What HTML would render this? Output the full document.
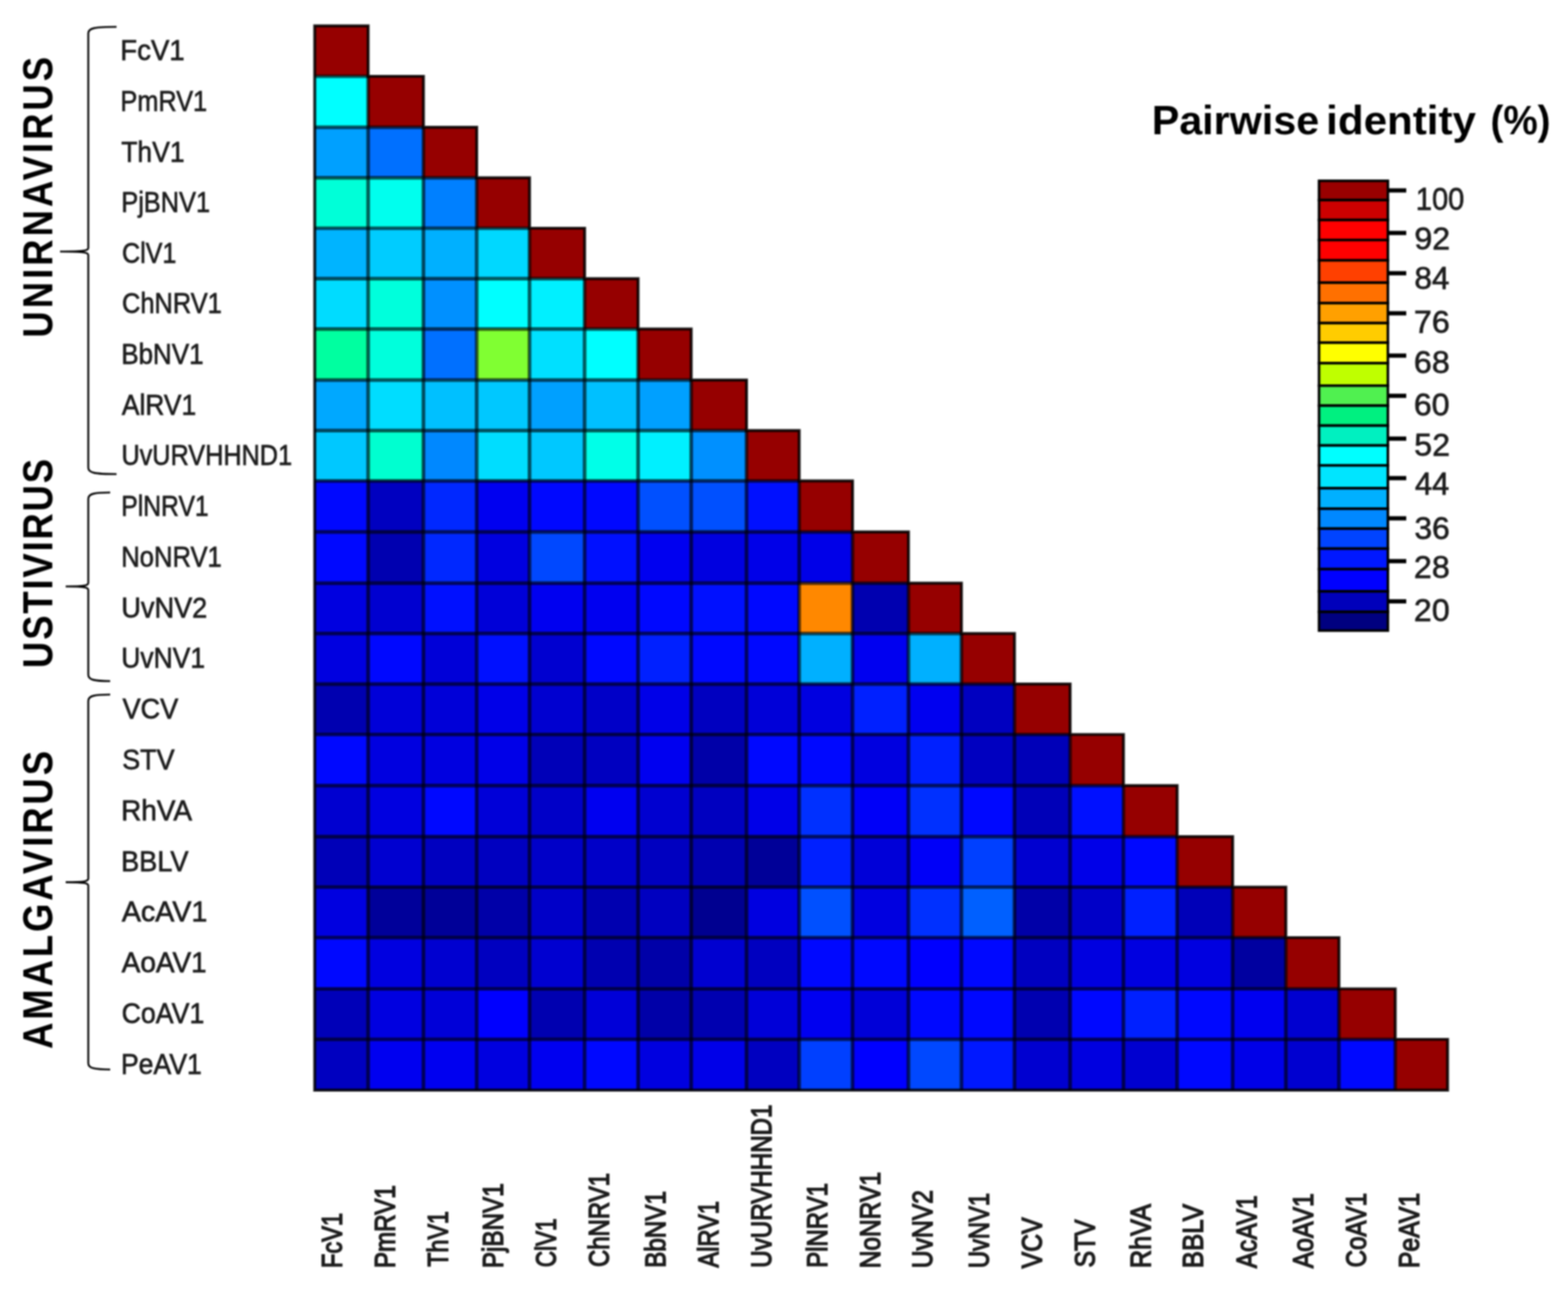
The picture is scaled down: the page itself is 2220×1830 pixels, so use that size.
<!DOCTYPE html><html><head><meta charset="utf-8"><title>Pairwise identity heatmap</title>
<style>html,body{margin:0;padding:0;background:#fff;width:2220px;height:1830px;overflow:hidden}svg{display:block;filter:blur(1px)}.lb{font-family:"Liberation Sans",Arial,sans-serif;font-size:41px;fill:#1c1c1c;stroke:#1c1c1c;stroke-width:0.9px}.lc{font-family:"Liberation Sans",Arial,sans-serif;font-size:40px;fill:#1c1c1c;stroke:#1c1c1c;stroke-width:1.8px}.gp{font-family:"Liberation Sans",Arial,sans-serif;font-weight:bold;font-size:60px;fill:#000}.tt{font-family:"Liberation Sans",Arial,sans-serif;font-weight:bold;font-size:58px;fill:#000}.tk{font-family:"Liberation Sans",Arial,sans-serif;font-size:45px;fill:#1c1c1c;stroke:#1c1c1c;stroke-width:0.9px}</style></head><body>
<svg width="2220" height="1830" viewBox="0 0 2220 1830">
<rect width="2220" height="1830" fill="#fff"/>
<g>
<rect x="445.10" y="36.10" width="76.60" height="72.40" fill="#960000"/>
<rect x="445.10" y="107.50" width="76.60" height="73.20" fill="#00FFFF"/>
<rect x="520.70" y="107.50" width="79.30" height="73.20" fill="#960000"/>
<rect x="445.10" y="179.70" width="76.60" height="72.40" fill="#00A0FF"/>
<rect x="520.70" y="179.70" width="79.30" height="72.40" fill="#0070FF"/>
<rect x="599.00" y="179.70" width="76.40" height="72.40" fill="#960000"/>
<rect x="445.10" y="251.10" width="76.60" height="72.40" fill="#00FFD8"/>
<rect x="520.70" y="251.10" width="79.30" height="72.40" fill="#00FFEE"/>
<rect x="599.00" y="251.10" width="76.40" height="72.40" fill="#0080FF"/>
<rect x="674.40" y="251.10" width="75.80" height="72.40" fill="#960000"/>
<rect x="445.10" y="322.50" width="76.60" height="72.40" fill="#00B4FF"/>
<rect x="520.70" y="322.50" width="79.30" height="72.40" fill="#00CCFF"/>
<rect x="599.00" y="322.50" width="76.40" height="72.40" fill="#00B0FF"/>
<rect x="674.40" y="322.50" width="75.80" height="72.40" fill="#00D8FF"/>
<rect x="749.20" y="322.50" width="79.00" height="72.40" fill="#960000"/>
<rect x="445.10" y="393.90" width="76.60" height="72.30" fill="#00DCFF"/>
<rect x="520.70" y="393.90" width="79.30" height="72.30" fill="#00FFDC"/>
<rect x="599.00" y="393.90" width="76.40" height="72.30" fill="#0090FF"/>
<rect x="674.40" y="393.90" width="75.80" height="72.30" fill="#00FFFF"/>
<rect x="749.20" y="393.90" width="79.00" height="72.30" fill="#00F0FF"/>
<rect x="827.20" y="393.90" width="76.70" height="72.30" fill="#960000"/>
<rect x="445.10" y="465.20" width="76.60" height="73.10" fill="#00FFA0"/>
<rect x="520.70" y="465.20" width="79.30" height="73.10" fill="#00FFDC"/>
<rect x="599.00" y="465.20" width="76.40" height="73.10" fill="#0070FF"/>
<rect x="674.40" y="465.20" width="75.80" height="73.10" fill="#80FF32"/>
<rect x="749.20" y="465.20" width="79.00" height="73.10" fill="#00E0FF"/>
<rect x="827.20" y="465.20" width="76.70" height="73.10" fill="#00FFFF"/>
<rect x="902.90" y="465.20" width="76.20" height="73.10" fill="#960000"/>
<rect x="445.10" y="537.30" width="76.60" height="72.50" fill="#00A8FF"/>
<rect x="520.70" y="537.30" width="79.30" height="72.50" fill="#00DDFF"/>
<rect x="599.00" y="537.30" width="76.40" height="72.50" fill="#00C0FF"/>
<rect x="674.40" y="537.30" width="75.80" height="72.50" fill="#00C8FF"/>
<rect x="749.20" y="537.30" width="79.00" height="72.50" fill="#00A0FF"/>
<rect x="827.20" y="537.30" width="76.70" height="72.50" fill="#00C0FF"/>
<rect x="902.90" y="537.30" width="76.20" height="72.50" fill="#00A0FF"/>
<rect x="978.10" y="537.30" width="79.30" height="72.50" fill="#960000"/>
<rect x="445.10" y="608.80" width="76.60" height="72.40" fill="#00C8FF"/>
<rect x="520.70" y="608.80" width="79.30" height="72.40" fill="#00FFD0"/>
<rect x="599.00" y="608.80" width="76.40" height="72.40" fill="#0088FF"/>
<rect x="674.40" y="608.80" width="75.80" height="72.40" fill="#00DDFF"/>
<rect x="749.20" y="608.80" width="79.00" height="72.40" fill="#00C8FF"/>
<rect x="827.20" y="608.80" width="76.70" height="72.40" fill="#00FFE8"/>
<rect x="902.90" y="608.80" width="76.20" height="72.40" fill="#00F0FF"/>
<rect x="978.10" y="608.80" width="79.30" height="72.40" fill="#0090FF"/>
<rect x="1056.40" y="608.80" width="75.60" height="72.40" fill="#960000"/>
<rect x="445.10" y="680.20" width="76.60" height="73.10" fill="#0008FF"/>
<rect x="520.70" y="680.20" width="79.30" height="73.10" fill="#0000C0"/>
<rect x="599.00" y="680.20" width="76.40" height="73.10" fill="#0028FF"/>
<rect x="674.40" y="680.20" width="75.80" height="73.10" fill="#0000F0"/>
<rect x="749.20" y="680.20" width="79.00" height="73.10" fill="#0008FF"/>
<rect x="827.20" y="680.20" width="76.70" height="73.10" fill="#0008FF"/>
<rect x="902.90" y="680.20" width="76.20" height="73.10" fill="#0050FF"/>
<rect x="978.10" y="680.20" width="79.30" height="73.10" fill="#0050FF"/>
<rect x="1056.40" y="680.20" width="75.60" height="73.10" fill="#0010FF"/>
<rect x="1131.00" y="680.20" width="76.50" height="73.10" fill="#960000"/>
<rect x="445.10" y="752.30" width="76.60" height="73.50" fill="#0008FF"/>
<rect x="520.70" y="752.30" width="79.30" height="73.50" fill="#0000B0"/>
<rect x="599.00" y="752.30" width="76.40" height="73.50" fill="#0028FF"/>
<rect x="674.40" y="752.30" width="75.80" height="73.50" fill="#0000E0"/>
<rect x="749.20" y="752.30" width="79.00" height="73.50" fill="#0048FF"/>
<rect x="827.20" y="752.30" width="76.70" height="73.50" fill="#0010FF"/>
<rect x="902.90" y="752.30" width="76.20" height="73.50" fill="#0000F0"/>
<rect x="978.10" y="752.30" width="79.30" height="73.50" fill="#0000E0"/>
<rect x="1056.40" y="752.30" width="75.60" height="73.50" fill="#0000E8"/>
<rect x="1131.00" y="752.30" width="76.50" height="73.50" fill="#0000E8"/>
<rect x="1206.50" y="752.30" width="80.20" height="73.50" fill="#960000"/>
<rect x="445.10" y="824.80" width="76.60" height="72.40" fill="#0000E0"/>
<rect x="520.70" y="824.80" width="79.30" height="72.40" fill="#0000D0"/>
<rect x="599.00" y="824.80" width="76.40" height="72.40" fill="#0010FF"/>
<rect x="674.40" y="824.80" width="75.80" height="72.40" fill="#0000D8"/>
<rect x="749.20" y="824.80" width="79.00" height="72.40" fill="#0000F0"/>
<rect x="827.20" y="824.80" width="76.70" height="72.40" fill="#0000F0"/>
<rect x="902.90" y="824.80" width="76.20" height="72.40" fill="#0008FF"/>
<rect x="978.10" y="824.80" width="79.30" height="72.40" fill="#0010FF"/>
<rect x="1056.40" y="824.80" width="75.60" height="72.40" fill="#0008FF"/>
<rect x="1131.00" y="824.80" width="76.50" height="72.40" fill="#FF8800"/>
<rect x="1206.50" y="824.80" width="80.20" height="72.40" fill="#0000B0"/>
<rect x="1285.70" y="824.80" width="76.00" height="72.40" fill="#960000"/>
<rect x="445.10" y="896.20" width="76.60" height="72.40" fill="#0000E0"/>
<rect x="520.70" y="896.20" width="79.30" height="72.40" fill="#0008FF"/>
<rect x="599.00" y="896.20" width="76.40" height="72.40" fill="#0000D8"/>
<rect x="674.40" y="896.20" width="75.80" height="72.40" fill="#0010FF"/>
<rect x="749.20" y="896.20" width="79.00" height="72.40" fill="#0000D0"/>
<rect x="827.20" y="896.20" width="76.70" height="72.40" fill="#0008FF"/>
<rect x="902.90" y="896.20" width="76.20" height="72.40" fill="#0020FF"/>
<rect x="978.10" y="896.20" width="79.30" height="72.40" fill="#0008FF"/>
<rect x="1056.40" y="896.20" width="75.60" height="72.40" fill="#0008FF"/>
<rect x="1131.00" y="896.20" width="76.50" height="72.40" fill="#00B0FF"/>
<rect x="1206.50" y="896.20" width="80.20" height="72.40" fill="#0000F0"/>
<rect x="1285.70" y="896.20" width="76.00" height="72.40" fill="#00B0FF"/>
<rect x="1360.70" y="896.20" width="76.10" height="72.40" fill="#960000"/>
<rect x="445.10" y="967.60" width="76.60" height="72.40" fill="#0000B0"/>
<rect x="520.70" y="967.60" width="79.30" height="72.40" fill="#0000D8"/>
<rect x="599.00" y="967.60" width="76.40" height="72.40" fill="#0000D8"/>
<rect x="674.40" y="967.60" width="75.80" height="72.40" fill="#0000E8"/>
<rect x="749.20" y="967.60" width="79.00" height="72.40" fill="#0000D0"/>
<rect x="827.20" y="967.60" width="76.70" height="72.40" fill="#0000C8"/>
<rect x="902.90" y="967.60" width="76.20" height="72.40" fill="#0000E8"/>
<rect x="978.10" y="967.60" width="79.30" height="72.40" fill="#0000C0"/>
<rect x="1056.40" y="967.60" width="75.60" height="72.40" fill="#0000D8"/>
<rect x="1131.00" y="967.60" width="76.50" height="72.40" fill="#0000E0"/>
<rect x="1206.50" y="967.60" width="80.20" height="72.40" fill="#0020FF"/>
<rect x="1285.70" y="967.60" width="76.00" height="72.40" fill="#0000F0"/>
<rect x="1360.70" y="967.60" width="76.10" height="72.40" fill="#0000C0"/>
<rect x="1435.80" y="967.60" width="79.80" height="72.40" fill="#960000"/>
<rect x="445.10" y="1039.00" width="76.60" height="73.30" fill="#0008FF"/>
<rect x="520.70" y="1039.00" width="79.30" height="73.30" fill="#0000E0"/>
<rect x="599.00" y="1039.00" width="76.40" height="73.30" fill="#0000E0"/>
<rect x="674.40" y="1039.00" width="75.80" height="73.30" fill="#0000E8"/>
<rect x="749.20" y="1039.00" width="79.00" height="73.30" fill="#0000B8"/>
<rect x="827.20" y="1039.00" width="76.70" height="73.30" fill="#0000C0"/>
<rect x="902.90" y="1039.00" width="76.20" height="73.30" fill="#0000F0"/>
<rect x="978.10" y="1039.00" width="79.30" height="73.30" fill="#0000A8"/>
<rect x="1056.40" y="1039.00" width="75.60" height="73.30" fill="#0008FF"/>
<rect x="1131.00" y="1039.00" width="76.50" height="73.30" fill="#0008FF"/>
<rect x="1206.50" y="1039.00" width="80.20" height="73.30" fill="#0000E0"/>
<rect x="1285.70" y="1039.00" width="76.00" height="73.30" fill="#0020FF"/>
<rect x="1360.70" y="1039.00" width="76.10" height="73.30" fill="#0000C0"/>
<rect x="1435.80" y="1039.00" width="79.80" height="73.30" fill="#0000B8"/>
<rect x="1514.60" y="1039.00" width="76.50" height="73.30" fill="#960000"/>
<rect x="445.10" y="1111.30" width="76.60" height="73.30" fill="#0000D0"/>
<rect x="520.70" y="1111.30" width="79.30" height="73.30" fill="#0000E0"/>
<rect x="599.00" y="1111.30" width="76.40" height="73.30" fill="#0008FF"/>
<rect x="674.40" y="1111.30" width="75.80" height="73.30" fill="#0000D8"/>
<rect x="749.20" y="1111.30" width="79.00" height="73.30" fill="#0000C8"/>
<rect x="827.20" y="1111.30" width="76.70" height="73.30" fill="#0000F0"/>
<rect x="902.90" y="1111.30" width="76.20" height="73.30" fill="#0000D0"/>
<rect x="978.10" y="1111.30" width="79.30" height="73.30" fill="#0000C0"/>
<rect x="1056.40" y="1111.30" width="75.60" height="73.30" fill="#0000E8"/>
<rect x="1131.00" y="1111.30" width="76.50" height="73.30" fill="#0030FF"/>
<rect x="1206.50" y="1111.30" width="80.20" height="73.30" fill="#0000F8"/>
<rect x="1285.70" y="1111.30" width="76.00" height="73.30" fill="#0030FF"/>
<rect x="1360.70" y="1111.30" width="76.10" height="73.30" fill="#0008FF"/>
<rect x="1435.80" y="1111.30" width="79.80" height="73.30" fill="#0000B8"/>
<rect x="1514.60" y="1111.30" width="76.50" height="73.30" fill="#0010FF"/>
<rect x="1590.10" y="1111.30" width="77.00" height="73.30" fill="#960000"/>
<rect x="445.10" y="1183.60" width="76.60" height="72.40" fill="#0000B8"/>
<rect x="520.70" y="1183.60" width="79.30" height="72.40" fill="#0000D0"/>
<rect x="599.00" y="1183.60" width="76.40" height="72.40" fill="#0000C0"/>
<rect x="674.40" y="1183.60" width="75.80" height="72.40" fill="#0000C0"/>
<rect x="749.20" y="1183.60" width="79.00" height="72.40" fill="#0000C8"/>
<rect x="827.20" y="1183.60" width="76.70" height="72.40" fill="#0000C8"/>
<rect x="902.90" y="1183.60" width="76.20" height="72.40" fill="#0000C0"/>
<rect x="978.10" y="1183.60" width="79.30" height="72.40" fill="#0000B0"/>
<rect x="1056.40" y="1183.60" width="75.60" height="72.40" fill="#000098"/>
<rect x="1131.00" y="1183.60" width="76.50" height="72.40" fill="#0020FF"/>
<rect x="1206.50" y="1183.60" width="80.20" height="72.40" fill="#0000D8"/>
<rect x="1285.70" y="1183.60" width="76.00" height="72.40" fill="#0000F8"/>
<rect x="1360.70" y="1183.60" width="76.10" height="72.40" fill="#0040FF"/>
<rect x="1435.80" y="1183.60" width="79.80" height="72.40" fill="#0000D0"/>
<rect x="1514.60" y="1183.60" width="76.50" height="72.40" fill="#0000E8"/>
<rect x="1590.10" y="1183.60" width="77.00" height="72.40" fill="#0008FF"/>
<rect x="1666.10" y="1183.60" width="79.60" height="72.40" fill="#960000"/>
<rect x="445.10" y="1255.00" width="76.60" height="72.50" fill="#0000E0"/>
<rect x="520.70" y="1255.00" width="79.30" height="72.50" fill="#00009A"/>
<rect x="599.00" y="1255.00" width="76.40" height="72.50" fill="#000098"/>
<rect x="674.40" y="1255.00" width="75.80" height="72.50" fill="#0000A8"/>
<rect x="749.20" y="1255.00" width="79.00" height="72.50" fill="#0000C8"/>
<rect x="827.20" y="1255.00" width="76.70" height="72.50" fill="#0000B0"/>
<rect x="902.90" y="1255.00" width="76.20" height="72.50" fill="#0000C0"/>
<rect x="978.10" y="1255.00" width="79.30" height="72.50" fill="#000090"/>
<rect x="1056.40" y="1255.00" width="75.60" height="72.50" fill="#0000E0"/>
<rect x="1131.00" y="1255.00" width="76.50" height="72.50" fill="#0050FF"/>
<rect x="1206.50" y="1255.00" width="80.20" height="72.50" fill="#0000E0"/>
<rect x="1285.70" y="1255.00" width="76.00" height="72.50" fill="#0030FF"/>
<rect x="1360.70" y="1255.00" width="76.10" height="72.50" fill="#0060FF"/>
<rect x="1435.80" y="1255.00" width="79.80" height="72.50" fill="#0000A8"/>
<rect x="1514.60" y="1255.00" width="76.50" height="72.50" fill="#0000C8"/>
<rect x="1590.10" y="1255.00" width="77.00" height="72.50" fill="#0020FF"/>
<rect x="1666.10" y="1255.00" width="79.60" height="72.50" fill="#0000B8"/>
<rect x="1744.70" y="1255.00" width="76.30" height="72.50" fill="#960000"/>
<rect x="445.10" y="1326.50" width="76.60" height="73.50" fill="#0008FF"/>
<rect x="520.70" y="1326.50" width="79.30" height="73.50" fill="#0000E0"/>
<rect x="599.00" y="1326.50" width="76.40" height="73.50" fill="#0000D0"/>
<rect x="674.40" y="1326.50" width="75.80" height="73.50" fill="#0000C0"/>
<rect x="749.20" y="1326.50" width="79.00" height="73.50" fill="#0000D0"/>
<rect x="827.20" y="1326.50" width="76.70" height="73.50" fill="#0000B0"/>
<rect x="902.90" y="1326.50" width="76.20" height="73.50" fill="#0000A8"/>
<rect x="978.10" y="1326.50" width="79.30" height="73.50" fill="#0000D0"/>
<rect x="1056.40" y="1326.50" width="75.60" height="73.50" fill="#0000C0"/>
<rect x="1131.00" y="1326.50" width="76.50" height="73.50" fill="#0008FF"/>
<rect x="1206.50" y="1326.50" width="80.20" height="73.50" fill="#0008FF"/>
<rect x="1285.70" y="1326.50" width="76.00" height="73.50" fill="#0000FF"/>
<rect x="1360.70" y="1326.50" width="76.10" height="73.50" fill="#0008FF"/>
<rect x="1435.80" y="1326.50" width="79.80" height="73.50" fill="#0000C0"/>
<rect x="1514.60" y="1326.50" width="76.50" height="73.50" fill="#0000E0"/>
<rect x="1590.10" y="1326.50" width="77.00" height="73.50" fill="#0000E0"/>
<rect x="1666.10" y="1326.50" width="79.60" height="73.50" fill="#0000E0"/>
<rect x="1744.70" y="1326.50" width="76.30" height="73.50" fill="#0000A0"/>
<rect x="1820.00" y="1326.50" width="76.20" height="73.50" fill="#960000"/>
<rect x="445.10" y="1399.00" width="76.60" height="72.50" fill="#0000B8"/>
<rect x="520.70" y="1399.00" width="79.30" height="72.50" fill="#0000E0"/>
<rect x="599.00" y="1399.00" width="76.40" height="72.50" fill="#0000D8"/>
<rect x="674.40" y="1399.00" width="75.80" height="72.50" fill="#0000FF"/>
<rect x="749.20" y="1399.00" width="79.00" height="72.50" fill="#0000B0"/>
<rect x="827.20" y="1399.00" width="76.70" height="72.50" fill="#0000D8"/>
<rect x="902.90" y="1399.00" width="76.20" height="72.50" fill="#0000A8"/>
<rect x="978.10" y="1399.00" width="79.30" height="72.50" fill="#0000B0"/>
<rect x="1056.40" y="1399.00" width="75.60" height="72.50" fill="#0000D8"/>
<rect x="1131.00" y="1399.00" width="76.50" height="72.50" fill="#0000F0"/>
<rect x="1206.50" y="1399.00" width="80.20" height="72.50" fill="#0000D8"/>
<rect x="1285.70" y="1399.00" width="76.00" height="72.50" fill="#0008FF"/>
<rect x="1360.70" y="1399.00" width="76.10" height="72.50" fill="#0008FF"/>
<rect x="1435.80" y="1399.00" width="79.80" height="72.50" fill="#0000B0"/>
<rect x="1514.60" y="1399.00" width="76.50" height="72.50" fill="#0008FF"/>
<rect x="1590.10" y="1399.00" width="77.00" height="72.50" fill="#0020FF"/>
<rect x="1666.10" y="1399.00" width="79.60" height="72.50" fill="#0008FF"/>
<rect x="1744.70" y="1399.00" width="76.30" height="72.50" fill="#0000F0"/>
<rect x="1820.00" y="1399.00" width="76.20" height="72.50" fill="#0000D0"/>
<rect x="1895.20" y="1399.00" width="80.70" height="72.50" fill="#960000"/>
<rect x="445.10" y="1470.50" width="76.60" height="72.90" fill="#0000C0"/>
<rect x="520.70" y="1470.50" width="79.30" height="72.90" fill="#0000F0"/>
<rect x="599.00" y="1470.50" width="76.40" height="72.90" fill="#0000F0"/>
<rect x="674.40" y="1470.50" width="75.80" height="72.90" fill="#0000E0"/>
<rect x="749.20" y="1470.50" width="79.00" height="72.90" fill="#0000F0"/>
<rect x="827.20" y="1470.50" width="76.70" height="72.90" fill="#0008FF"/>
<rect x="902.90" y="1470.50" width="76.20" height="72.90" fill="#0000E0"/>
<rect x="978.10" y="1470.50" width="79.30" height="72.90" fill="#0000E8"/>
<rect x="1056.40" y="1470.50" width="75.60" height="72.90" fill="#0000C0"/>
<rect x="1131.00" y="1470.50" width="76.50" height="72.90" fill="#0040FF"/>
<rect x="1206.50" y="1470.50" width="80.20" height="72.90" fill="#0000FF"/>
<rect x="1285.70" y="1470.50" width="76.00" height="72.90" fill="#0048FF"/>
<rect x="1360.70" y="1470.50" width="76.10" height="72.90" fill="#0018FF"/>
<rect x="1435.80" y="1470.50" width="79.80" height="72.90" fill="#0000D0"/>
<rect x="1514.60" y="1470.50" width="76.50" height="72.90" fill="#0000E0"/>
<rect x="1590.10" y="1470.50" width="77.00" height="72.90" fill="#0000D0"/>
<rect x="1666.10" y="1470.50" width="79.60" height="72.90" fill="#0008FF"/>
<rect x="1744.70" y="1470.50" width="76.30" height="72.90" fill="#0000E8"/>
<rect x="1820.00" y="1470.50" width="76.20" height="72.90" fill="#0000D0"/>
<rect x="1895.20" y="1470.50" width="80.70" height="72.90" fill="#0008FF"/>
<rect x="1974.90" y="1470.50" width="75.10" height="72.90" fill="#960000"/>
</g>
<path d="M445.60 108.00H521.20M445.60 180.20H599.50M445.60 251.60H674.90M445.60 323.00H749.70M445.60 394.40H827.70M445.60 465.70H903.40M445.60 537.80H978.60M445.60 609.30H1056.90M445.60 680.70H1131.50M445.60 752.80H1207.00M445.60 825.30H1286.20M445.60 896.70H1361.20M445.60 968.10H1436.30M445.60 1039.50H1515.10M445.60 1111.80H1590.60M445.60 1184.10H1666.60M445.60 1255.50H1745.20M445.60 1327.00H1820.50M445.60 1399.50H1895.70M445.60 1471.00H1975.40" fill="none" stroke="#000" stroke-opacity="0.62" stroke-width="5.2"/>
<path d="M521.20 108.00V1542.90M599.50 180.20V1542.90M674.90 251.60V1542.90M749.70 323.00V1542.90M827.70 394.40V1542.90M903.40 465.70V1542.90M978.60 537.80V1542.90M1056.90 609.30V1542.90M1131.50 680.70V1542.90M1207.00 752.80V1542.90M1286.20 825.30V1542.90M1361.20 896.70V1542.90M1436.30 968.10V1542.90M1515.10 1039.50V1542.90M1590.60 1111.80V1542.90M1666.60 1184.10V1542.90M1745.20 1255.50V1542.90M1820.50 1327.00V1542.90M1895.70 1399.50V1542.90M1975.40 1471.00V1542.90" fill="none" stroke="#000" stroke-opacity="0.62" stroke-width="5.2"/>
<path d="M445.60 36.60H521.20V108.00H599.50V180.20H674.90V251.60H749.70V323.00H827.70V394.40H903.40V465.70H978.60V537.80H1056.90V609.30H1131.50V680.70H1207.00V752.80H1286.20V825.30H1361.20V896.70H1436.30V968.10H1515.10V1039.50H1590.60V1111.80H1666.60V1184.10H1745.20V1255.50H1820.50V1327.00H1895.70V1399.50H1975.40V1471.00H2049.50V1542.90H445.60Z" fill="none" stroke="#000" stroke-opacity="0.85" stroke-width="4.2" stroke-linejoin="miter"/>
<text class="lb" x="170.35" y="85.3" textLength="91.00" lengthAdjust="spacingAndGlyphs">FcV1</text>
<text class="lb" x="170.61" y="157.1" textLength="122.68" lengthAdjust="spacingAndGlyphs">PmRV1</text>
<text class="lb" x="171.71" y="228.9" textLength="89.57" lengthAdjust="spacingAndGlyphs">ThV1</text>
<text class="lb" x="171.71" y="300.3" textLength="125.70" lengthAdjust="spacingAndGlyphs">PjBNV1</text>
<text class="lb" x="172.85" y="371.7" textLength="76.94" lengthAdjust="spacingAndGlyphs">ClV1</text>
<text class="lb" x="172.82" y="443.0" textLength="141.18" lengthAdjust="spacingAndGlyphs">ChNRV1</text>
<text class="lb" x="171.63" y="514.8" textLength="116.51" lengthAdjust="spacingAndGlyphs">BbNV1</text>
<text class="lb" x="172.48" y="586.5" textLength="105.30" lengthAdjust="spacingAndGlyphs">AlRV1</text>
<text class="lb" x="171.89" y="658.0" textLength="241.70" lengthAdjust="spacingAndGlyphs">UvURVHHND1</text>
<text class="lb" x="171.79" y="729.8" textLength="123.57" lengthAdjust="spacingAndGlyphs">PlNRV1</text>
<text class="lb" x="171.68" y="802.0" textLength="142.34" lengthAdjust="spacingAndGlyphs">NoNRV1</text>
<text class="lb" x="171.68" y="874.0" textLength="121.80" lengthAdjust="spacingAndGlyphs">UvNV2</text>
<text class="lb" x="171.76" y="945.4" textLength="118.51" lengthAdjust="spacingAndGlyphs">UvNV1</text>
<text class="lb" x="173.38" y="1016.8" textLength="78.94" lengthAdjust="spacingAndGlyphs">VCV</text>
<text class="lb" x="172.92" y="1088.7" textLength="74.20" lengthAdjust="spacingAndGlyphs">STV</text>
<text class="lb" x="171.40" y="1160.9" textLength="100.53" lengthAdjust="spacingAndGlyphs">RhVA</text>
<text class="lb" x="171.50" y="1232.8" textLength="95.32" lengthAdjust="spacingAndGlyphs">BBLV</text>
<text class="lb" x="172.47" y="1304.2" textLength="121.06" lengthAdjust="spacingAndGlyphs">AcAV1</text>
<text class="lb" x="172.27" y="1376.2" textLength="120.31" lengthAdjust="spacingAndGlyphs">AoAV1</text>
<text class="lb" x="172.33" y="1448.2" textLength="116.86" lengthAdjust="spacingAndGlyphs">CoAV1</text>
<text class="lb" x="171.16" y="1520.0" textLength="114.64" lengthAdjust="spacingAndGlyphs">PeAV1</text>
<text class="lc" transform="translate(483.9,1800) rotate(-90)" x="5.26" y="0" textLength="78.08" lengthAdjust="spacingAndGlyphs">FcV1</text>
<text class="lc" transform="translate(559.1,1800) rotate(-90)" x="5.19" y="0" textLength="117.49" lengthAdjust="spacingAndGlyphs">PmRV1</text>
<text class="lc" transform="translate(634.3,1800) rotate(-90)" x="7.26" y="0" textLength="78.65" lengthAdjust="spacingAndGlyphs">ThV1</text>
<text class="lc" transform="translate(712.1,1800) rotate(-90)" x="5.19" y="0" textLength="120.09" lengthAdjust="spacingAndGlyphs">PjBNV1</text>
<text class="lc" transform="translate(787.3,1800) rotate(-90)" x="6.38" y="0" textLength="69.18" lengthAdjust="spacingAndGlyphs">ClV1</text>
<text class="lc" transform="translate(862.2,1800) rotate(-90)" x="6.78" y="0" textLength="133.07" lengthAdjust="spacingAndGlyphs">ChNRV1</text>
<text class="lc" transform="translate(942.0,1800) rotate(-90)" x="5.69" y="0" textLength="108.58" lengthAdjust="spacingAndGlyphs">BbNV1</text>
<text class="lc" transform="translate(1017.0,1800) rotate(-90)" x="6.03" y="0" textLength="93.99" lengthAdjust="spacingAndGlyphs">AlRV1</text>
<text class="lc" transform="translate(1092.0,1800) rotate(-90)" x="5.86" y="0" textLength="230.90" lengthAdjust="spacingAndGlyphs">UvURVHHND1</text>
<text class="lc" transform="translate(1170.9,1800) rotate(-90)" x="5.72" y="0" textLength="119.94" lengthAdjust="spacingAndGlyphs">PlNRV1</text>
<text class="lc" transform="translate(1246.1,1800) rotate(-90)" x="4.95" y="0" textLength="136.24" lengthAdjust="spacingAndGlyphs">NoNRV1</text>
<text class="lc" transform="translate(1320.2,1800) rotate(-90)" x="5.11" y="0" textLength="110.44" lengthAdjust="spacingAndGlyphs">UvNV2</text>
<text class="lc" transform="translate(1399.9,1800) rotate(-90)" x="5.21" y="0" textLength="106.43" lengthAdjust="spacingAndGlyphs">UvNV1</text>
<text class="lc" transform="translate(1475.0,1800) rotate(-90)" x="4.85" y="0" textLength="72.11" lengthAdjust="spacingAndGlyphs">VCV</text>
<text class="lc" transform="translate(1550.0,1800) rotate(-90)" x="6.22" y="0" textLength="67.84" lengthAdjust="spacingAndGlyphs">STV</text>
<text class="lc" transform="translate(1628.5,1800) rotate(-90)" x="5.18" y="0" textLength="90.49" lengthAdjust="spacingAndGlyphs">RhVA</text>
<text class="lc" transform="translate(1703.2,1800) rotate(-90)" x="5.10" y="0" textLength="90.66" lengthAdjust="spacingAndGlyphs">BBLV</text>
<text class="lc" transform="translate(1779.0,1800) rotate(-90)" x="5.03" y="0" textLength="103.26" lengthAdjust="spacingAndGlyphs">AcAV1</text>
<text class="lc" transform="translate(1858.8,1800) rotate(-90)" x="5.03" y="0" textLength="106.28" lengthAdjust="spacingAndGlyphs">AoAV1</text>
<text class="lc" transform="translate(1933.6,1800) rotate(-90)" x="6.37" y="0" textLength="105.29" lengthAdjust="spacingAndGlyphs">CoAV1</text>
<text class="lc" transform="translate(2009.2,1800) rotate(-90)" x="5.23" y="0" textLength="106.49" lengthAdjust="spacingAndGlyphs">PeAV1</text>
<text class="gp" transform="translate(73.5,2000) rotate(-90) scale(0.860,1)" x="1770.00" style="letter-spacing:4.98px">UNIRNAVIRUS</text>
<text class="gp" transform="translate(73.5,2000) rotate(-90) scale(0.860,1)" x="1226.28" style="letter-spacing:3.01px">USTIVIRUS</text>
<text class="gp" transform="translate(73.5,2000) rotate(-90) scale(0.860,1)" x="599.32" style="letter-spacing:4.84px">AMALGAVIRUS</text>
<path d="M165.0 38.0 C133.0 38.0 125.0 40.0 125.0 47.0 L125.0 351.0 C125.0 354.5 121.0 356.0 85.0 356.0 C121.0 356.0 125.0 357.5 125.0 361.0 L125.0 662.0 C125.0 669.0 133.0 671.0 165.0 671.0" fill="none" stroke="#000" stroke-width="2.6"/>
<path d="M156.0 697.0 C133.0 697.0 125.0 699.0 125.0 706.0 L125.0 825.0 C125.0 828.5 121.0 830.0 93.0 830.0 C121.0 830.0 125.0 831.5 125.0 835.0 L125.0 955.0 C125.0 962.0 133.0 964.0 156.0 964.0" fill="none" stroke="#000" stroke-width="2.6"/>
<path d="M156.0 983.0 C133.0 983.0 125.0 985.0 125.0 992.0 L125.0 1243.6 C125.0 1247.1 121.0 1248.6 93.0 1248.6 C121.0 1248.6 125.0 1250.1 125.0 1253.6 L125.0 1504.7 C125.0 1511.7 133.0 1513.7 156.0 1513.7" fill="none" stroke="#000" stroke-width="2.6"/>
<text class="tt" y="190.2">
<tspan x="1630.69" textLength="237.00" lengthAdjust="spacingAndGlyphs">Pairwise</tspan>
<tspan x="1877.64" textLength="212.09" lengthAdjust="spacingAndGlyphs">identity</tspan>
<tspan x="2110.18" textLength="85.05" lengthAdjust="spacingAndGlyphs">(%)</tspan>
</text>
<g stroke="#000" stroke-width="3.6">
<rect x="1867.5" y="255.90" width="97.5" height="27.30" fill="#990000"/>
<rect x="1867.5" y="283.20" width="97.5" height="28.20" fill="#CC0000"/>
<rect x="1867.5" y="311.40" width="97.5" height="28.30" fill="#FF0000"/>
<rect x="1867.5" y="339.70" width="97.5" height="28.80" fill="#FF0000"/>
<rect x="1867.5" y="368.50" width="97.5" height="31.60" fill="#FF4000"/>
<rect x="1867.5" y="400.10" width="97.5" height="28.90" fill="#FF7000"/>
<rect x="1867.5" y="429.00" width="97.5" height="28.30" fill="#FFA000"/>
<rect x="1867.5" y="457.30" width="97.5" height="27.70" fill="#FFCC00"/>
<rect x="1867.5" y="485.00" width="97.5" height="29.00" fill="#FFFF00"/>
<rect x="1867.5" y="514.00" width="97.5" height="31.80" fill="#BFFF00"/>
<rect x="1867.5" y="545.80" width="97.5" height="28.30" fill="#50F050"/>
<rect x="1867.5" y="574.10" width="97.5" height="28.30" fill="#00F080"/>
<rect x="1867.5" y="602.40" width="97.5" height="28.10" fill="#00F0C0"/>
<rect x="1867.5" y="630.50" width="97.5" height="28.20" fill="#00FFFF"/>
<rect x="1867.5" y="658.70" width="97.5" height="32.30" fill="#00E5FF"/>
<rect x="1867.5" y="691.00" width="97.5" height="29.00" fill="#00B0FF"/>
<rect x="1867.5" y="720.00" width="97.5" height="28.20" fill="#0088FF"/>
<rect x="1867.5" y="748.20" width="97.5" height="28.30" fill="#0044FF"/>
<rect x="1867.5" y="776.50" width="97.5" height="29.00" fill="#0018FF"/>
<rect x="1867.5" y="805.50" width="97.5" height="31.50" fill="#0000FF"/>
<rect x="1867.5" y="837.00" width="97.5" height="29.00" fill="#0000BB"/>
<rect x="1867.5" y="866.00" width="97.5" height="26.50" fill="#000080"/>
</g>
<line x1="1965.0" x2="1991" y1="269.5" y2="269.5" stroke="#000" stroke-width="6"/>
<text class="tk" x="2004.51" y="297.0" textLength="68.75" lengthAdjust="spacingAndGlyphs">100</text>
<line x1="1965.0" x2="1991" y1="329.7" y2="329.7" stroke="#000" stroke-width="6"/>
<text class="tk" x="2002.41" y="353.0" textLength="50.73" lengthAdjust="spacingAndGlyphs">92</text>
<line x1="1965.0" x2="1991" y1="386.7" y2="386.7" stroke="#000" stroke-width="6"/>
<text class="tk" x="2002.41" y="409.0" textLength="49.75" lengthAdjust="spacingAndGlyphs">84</text>
<line x1="1965.0" x2="1991" y1="443.4" y2="443.4" stroke="#000" stroke-width="6"/>
<text class="tk" x="2001.81" y="471.0" textLength="50.85" lengthAdjust="spacingAndGlyphs">76</text>
<line x1="1965.0" x2="1991" y1="503.3" y2="503.3" stroke="#000" stroke-width="6"/>
<text class="tk" x="2001.83" y="527.7" textLength="50.80" lengthAdjust="spacingAndGlyphs">68</text>
<line x1="1965.0" x2="1991" y1="560.2" y2="560.2" stroke="#000" stroke-width="6"/>
<text class="tk" x="2001.84" y="588.4" textLength="50.59" lengthAdjust="spacingAndGlyphs">60</text>
<line x1="1965.0" x2="1991" y1="620.8" y2="620.8" stroke="#000" stroke-width="6"/>
<text class="tk" x="2002.33" y="644.5" textLength="50.61" lengthAdjust="spacingAndGlyphs">52</text>
<line x1="1965.0" x2="1991" y1="676.7" y2="676.7" stroke="#000" stroke-width="6"/>
<text class="tk" x="2003.14" y="700.4" textLength="48.79" lengthAdjust="spacingAndGlyphs">44</text>
<line x1="1965.0" x2="1991" y1="733.6" y2="733.6" stroke="#000" stroke-width="6"/>
<text class="tk" x="2002.43" y="762.5" textLength="50.20" lengthAdjust="spacingAndGlyphs">36</text>
<line x1="1965.0" x2="1991" y1="794.2" y2="794.2" stroke="#000" stroke-width="6"/>
<text class="tk" x="2001.85" y="818.0" textLength="50.78" lengthAdjust="spacingAndGlyphs">28</text>
<line x1="1965.0" x2="1991" y1="851.1" y2="851.1" stroke="#000" stroke-width="6"/>
<text class="tk" x="2001.86" y="879.3" textLength="50.56" lengthAdjust="spacingAndGlyphs">20</text>
</svg></body></html>
